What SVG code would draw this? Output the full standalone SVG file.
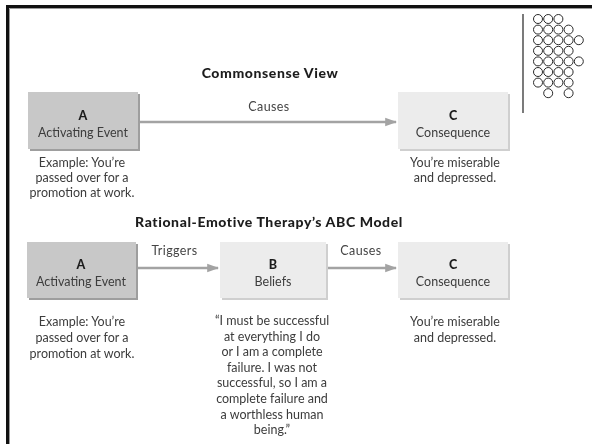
<svg xmlns="http://www.w3.org/2000/svg" width="592" height="444" viewBox="0 0 592 444">
  <defs>
    <marker id="arrowhead" viewBox="0 0 10 10" refX="9" refY="5" markerWidth="5" markerHeight="5" orient="auto" markerUnits="strokeWidth">
      <path d="M0,1.5 L10,5 L0,8.5 z" fill="#a3a3a3"/>
    </marker>
    <filter id="soft" x="-5%" y="-5%" width="110%" height="110%">
      <feGaussianBlur stdDeviation="0.35"/>
    </filter>
  </defs>
  <style>
    text { font-family: "Lato", "Liberation Sans", sans-serif; fill: #3c3c3c; }
    .title { font-size: 14px; font-weight: 900; fill: #1e1e1e; text-anchor: middle; letter-spacing: 0.6px; }
    .letter { font-size: 12.5px; font-weight: 900; fill: #1e1e1e; text-anchor: middle; }
    .label { font-size: 12.5px; text-anchor: middle; }
    .note { font-size: 12.5px; text-anchor: middle; }
    .edge { font-size: 12.5px; text-anchor: middle; fill: #444; letter-spacing: 0.4px; }
    .box-dark { fill: #c8c8c8; }
    .shadow-dark { fill: #9e9e9e; }
    .box-light { fill: #ececec; }
    .shadow-light { fill: #cfcfcf; }
    .arrow { stroke: #a3a3a3; stroke-width: 2.4; fill: none; marker-end: url(#arrowhead); }
    .dot { fill: none; stroke: #2a2a2a; stroke-width: 1; }
  </style>

  <rect width="592" height="444" fill="#ffffff"/>

  <!-- slide frame -->
  <g id="frame">
    <line x1="6" y1="6.5" x2="592" y2="6.5" stroke="#111" stroke-width="3"/>
    <line x1="7.5" y1="5" x2="7.5" y2="444" stroke="#111" stroke-width="3"/>
    <line x1="9.5" y1="8.5" x2="592" y2="8.5" stroke="#9a9a9a" stroke-width="1"/>
    <line x1="9.5" y1="8.5" x2="9.5" y2="444" stroke="#9a9a9a" stroke-width="1"/>
  </g>

  <!-- corner ornament: rule and dot grid -->
  <g id="ornament">
    <line x1="523" y1="14" x2="523" y2="113" stroke="#222" stroke-width="1.2"/>
    <g class="dot">
      <circle cx="538" cy="19" r="4.5"/><circle cx="548.2" cy="19" r="4.5"/><circle cx="558.4" cy="19" r="4.5"/>
      <circle cx="538" cy="29.6" r="4.5"/><circle cx="548.2" cy="29.6" r="4.5"/><circle cx="558.4" cy="29.6" r="4.5"/><circle cx="568.6" cy="29.6" r="4.5"/>
      <circle cx="538" cy="40.2" r="4.5"/><circle cx="548.2" cy="40.2" r="4.5"/><circle cx="558.4" cy="40.2" r="4.5"/><circle cx="568.6" cy="40.2" r="4.5"/><circle cx="578.8" cy="40.2" r="4.5"/>
      <circle cx="538" cy="50.8" r="4.5"/><circle cx="548.2" cy="50.8" r="4.5"/><circle cx="558.4" cy="50.8" r="4.5"/><circle cx="568.6" cy="50.8" r="4.5"/>
      <circle cx="538" cy="61.4" r="4.5"/><circle cx="548.2" cy="61.4" r="4.5"/><circle cx="558.4" cy="61.4" r="4.5"/><circle cx="568.6" cy="61.4" r="4.5"/><circle cx="578.8" cy="61.4" r="4.5"/>
      <circle cx="538" cy="72" r="4.5"/><circle cx="548.2" cy="72" r="4.5"/><circle cx="558.4" cy="72" r="4.5"/><circle cx="568.6" cy="72" r="4.5"/>
      <circle cx="538" cy="82.6" r="4.5"/><circle cx="548.2" cy="82.6" r="4.5"/><circle cx="558.4" cy="82.6" r="4.5"/><circle cx="568.6" cy="82.6" r="4.5"/>
      <circle cx="548.2" cy="93.2" r="4.5"/><circle cx="568.6" cy="93.2" r="4.5"/>
    </g>
  </g>

  <g filter="url(#soft)">
    <!-- section headings -->
    <text class="title" x="270" y="78">Commonsense View</text>
    <text class="title" x="269" y="227">Rational-Emotive Therapy’s ABC Model</text>

    <!-- connectors -->
    <g id="connectors">
      <line class="arrow" x1="138" y1="122" x2="396" y2="122"/>
      <text class="edge" x="269" y="111">Causes</text>
      <line class="arrow" x1="136" y1="268" x2="218" y2="268"/>
      <text class="edge" x="174.5" y="255">Triggers</text>
      <line class="arrow" x1="326" y1="268" x2="396" y2="268"/>
      <text class="edge" x="361" y="255">Causes</text>
    </g>

    <!-- commonsense view: A -->
    <g id="cs-a">
      <rect class="shadow-dark" x="30" y="94" width="110" height="57"/>
      <rect class="box-dark" x="28" y="92" width="110" height="57"/>
      <text class="letter" x="83" y="120">A</text>
      <text class="label" x="83" y="137">Activating Event</text>
      <text class="note" x="82" y="167">Example: You’re</text>
      <text class="note" x="82" y="182">passed over for a</text>
      <text class="note" x="82" y="197">promotion at work.</text>
    </g>

    <!-- commonsense view: C -->
    <g id="cs-c">
      <rect class="shadow-light" x="400" y="94" width="110" height="57"/>
      <rect class="box-light" x="398" y="92" width="110" height="57"/>
      <text class="letter" x="453" y="120">C</text>
      <text class="label" x="453" y="137">Consequence</text>
      <text class="note" x="455" y="167">You’re miserable</text>
      <text class="note" x="455" y="182">and depressed.</text>
    </g>

    <!-- ABC model: A -->
    <g id="abc-a">
      <rect class="shadow-dark" x="29" y="244" width="109" height="56"/>
      <rect class="box-dark" x="27" y="242" width="109" height="56"/>
      <text class="letter" x="81" y="269">A</text>
      <text class="label" x="81" y="286">Activating Event</text>
      <text class="note" x="82" y="326">Example: You’re</text>
      <text class="note" x="82" y="342">passed over for a</text>
      <text class="note" x="82" y="358">promotion at work.</text>
    </g>

    <!-- ABC model: B -->
    <g id="abc-b">
      <rect class="shadow-light" x="222" y="244" width="106" height="56"/>
      <rect class="box-light" x="220" y="242" width="106" height="56"/>
      <text class="letter" x="273" y="269">B</text>
      <text class="label" x="273" y="286">Beliefs</text>
      <text class="note" x="272" y="325">“I must be successful</text>
      <text class="note" x="272" y="340.6">at everything I do</text>
      <text class="note" x="272" y="356.2">or I am a complete</text>
      <text class="note" x="272" y="371.8">failure. I was not</text>
      <text class="note" x="272" y="387.4">successful, so I am a</text>
      <text class="note" x="272" y="403">complete failure and</text>
      <text class="note" x="272" y="418.6">a worthless human</text>
      <text class="note" x="272" y="434.2">being.”</text>
    </g>

    <!-- ABC model: C -->
    <g id="abc-c">
      <rect class="shadow-light" x="400" y="244" width="110" height="56"/>
      <rect class="box-light" x="398" y="242" width="110" height="56"/>
      <text class="letter" x="453" y="269">C</text>
      <text class="label" x="453" y="286">Consequence</text>
      <text class="note" x="455" y="326">You’re miserable</text>
      <text class="note" x="455" y="342">and depressed.</text>
    </g>
  </g>
</svg>
